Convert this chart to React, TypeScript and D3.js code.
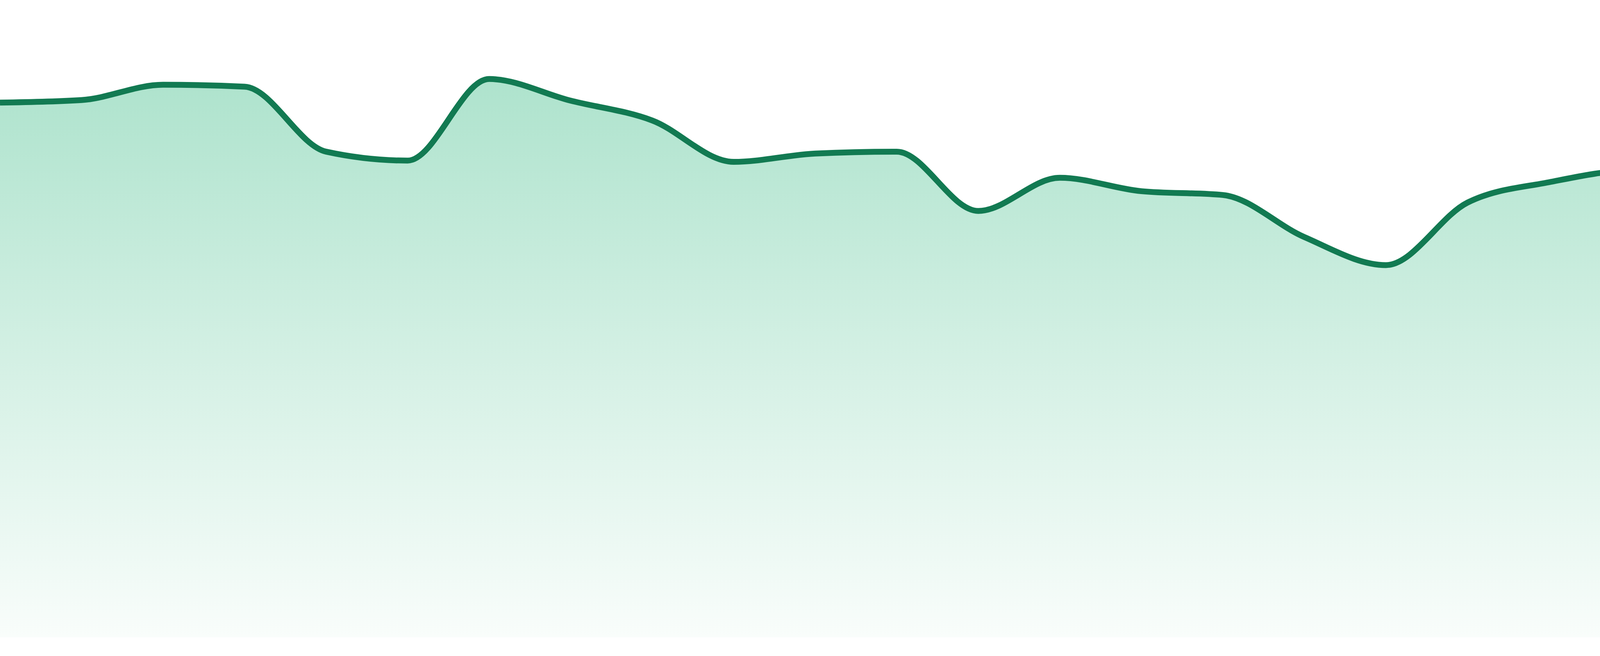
import { useEffect, useRef } from 'react';
import * as d3 from 'd3';

// one reading per step, left to right
const values = [
  83.9, 84.3, 86.7, 86.4, 76.2, 74.8, 87.6, 84.2, 81.1, 74.6, 75.9, 76.2,
  66.9, 72.1, 70.0, 69.4, 62.8, 58.4, 68.2, 71.4, 73.2, 72.5, 76.0, 77.9,
];
const yDomain = [0, 100];

export default function App() {
  const svgRef = useRef<SVGSVGElement>(null);

  useEffect(() => {
    document.body.style.margin = '0';
    if (!svgRef.current) return;

    const width = 4800;
    const height = 1680;
    const baseline = 1632;

    const svg = d3.select(svgRef.current);
    svg.selectAll('*').remove();
    svg.attr('width', width).attr('height', height);

    const xScale = d3
      .scaleLinear()
      .domain([0, values.length - 1])
      .range([0, width]);

    const yScale = d3
      .scaleLinear()
      .domain(yDomain)
      .range([baseline, 0]);

    const gradient = svg
      .append('defs')
      .append('linearGradient')
      .attr('id', 'area-gradient')
      .attr('x1', '0%')
      .attr('y1', '0%')
      .attr('x2', '0%')
      .attr('y2', '100%');

    gradient.append('stop').attr('offset', '0%').attr('stop-color', '#aee3cd');
    gradient.append('stop').attr('offset', '100%').attr('stop-color', '#f9fdfb');

    const area = d3
      .area<number>()
      .x((_, i) => xScale(i))
      .y0(baseline)
      .y1((d) => yScale(d))
      .curve(d3.curveMonotoneX);

    svg.append('path')
      .datum(values)
      .attr('fill', 'url(#area-gradient)')
      .attr('d', area);

    const line = d3
      .line<number>()
      .x((_, i) => xScale(i))
      .y((d) => yScale(d))
      .curve(d3.curveMonotoneX);

    svg.append('path')
      .datum(values)
      .attr('fill', 'none')
      .attr('stroke', '#127a52')
      .attr('stroke-width', 15)
      .attr('d', line);
  }, []);

  return <svg ref={svgRef} style={{ display: 'block' }} />;
}
